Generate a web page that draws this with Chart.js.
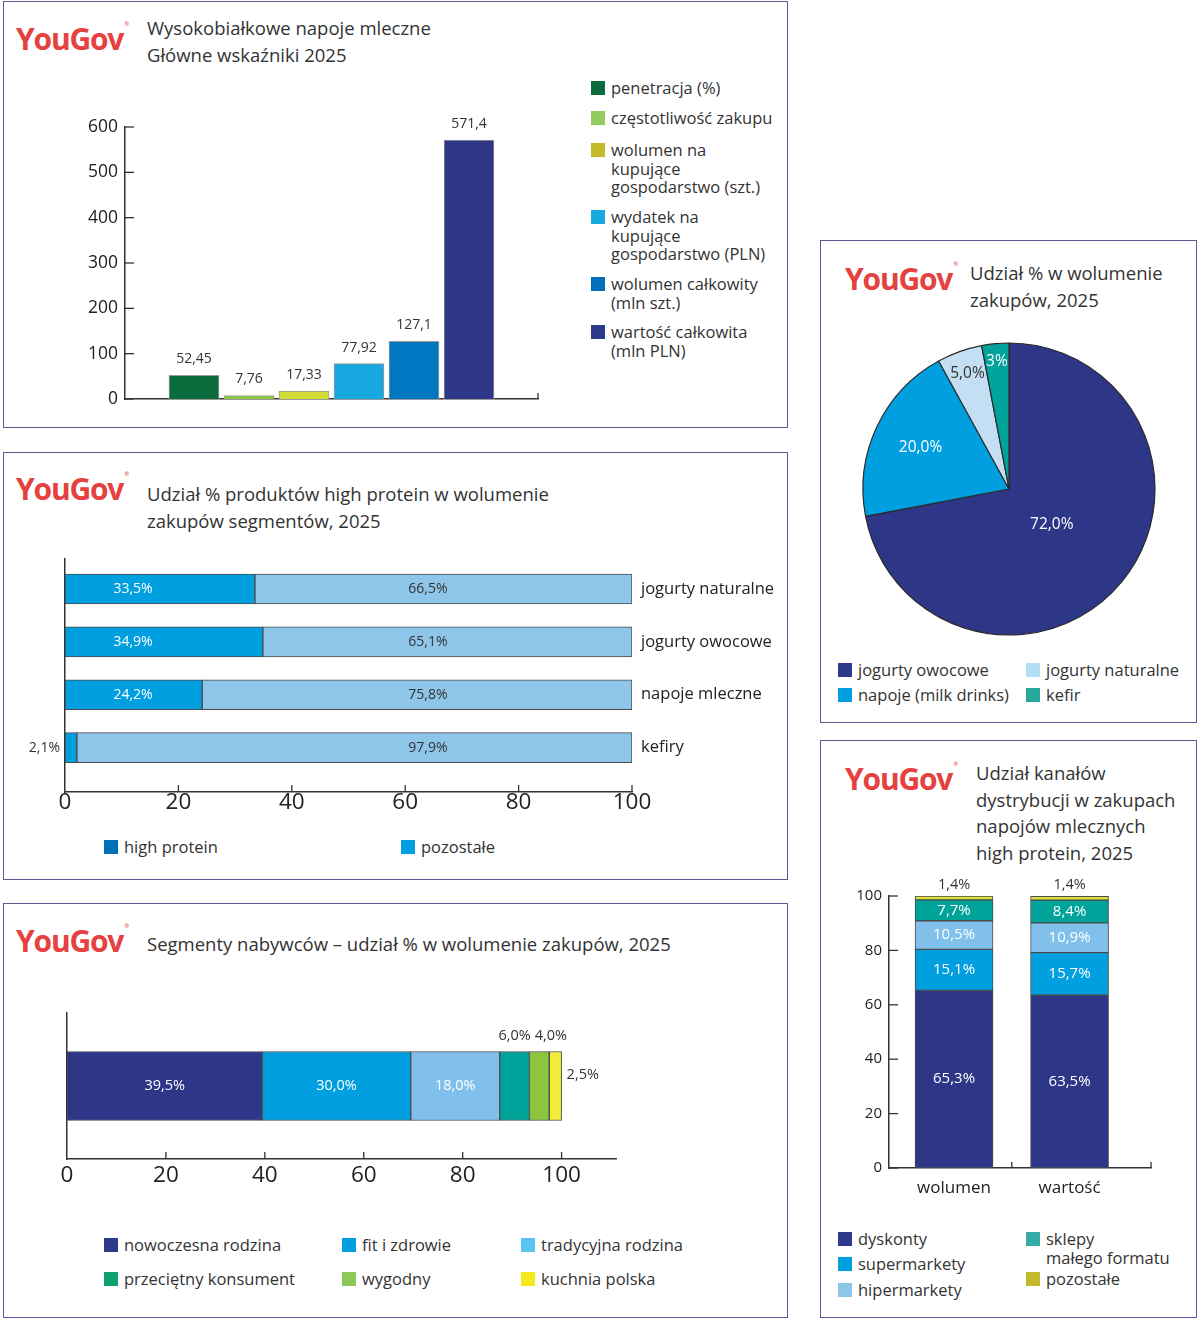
<!DOCTYPE html>
<html lang="pl">
<head>
<meta charset="utf-8">
<script src="https://cdn.jsdelivr.net/npm/chart.js@4.4.1/dist/chart.umd.min.js"></script>
<style>
body { margin: 0; background: #fff; font-family: "Open Sans", sans-serif; color: #333; }
#page { position: relative; width: 1200px; height: 1319px; overflow: hidden; }
.panel { position: absolute; border: 1.5px solid #565b96; box-sizing: border-box; }
.logo { position: absolute; color: #e5413e; font-weight: 700; font-size: 30px; line-height: 30px; letter-spacing: -1.2px; white-space: nowrap; }
.logo sup { font-size: 6px; font-weight: 400; position: relative; top: -13px; letter-spacing: 0; margin-left: 1px; }
.title { position: absolute; font-size: 18.5px; line-height: 26.5px; color: #333; white-space: nowrap; }
canvas { position: absolute; }
.lg { position: absolute; font-size: 16.5px; line-height: 18.5px; color: #333; padding-left: 20px; white-space: pre; }
.lg i { position: absolute; left: 0; top: 2px; width: 14px; height: 14px; }
</style>
</head>
<body>
<div id="page">
  <div class="panel" style="left:3px;top:1px;width:785px;height:427px"></div>
  <div class="panel" style="left:3px;top:452px;width:785px;height:428px"></div>
  <div class="panel" style="left:3px;top:903px;width:785px;height:415px"></div>
  <div class="panel" style="left:820px;top:240px;width:377px;height:483px"></div>
  <div class="panel" style="left:820px;top:740px;width:377px;height:578px"></div>

  <div class="logo" style="left:16px;top:22px">YouGov<sup>®</sup></div>
  <div class="logo" style="left:16px;top:472px">YouGov<sup>®</sup></div>
  <div class="logo" style="left:16px;top:924px">YouGov<sup>®</sup></div>
  <div class="logo" style="left:845px;top:262px">YouGov<sup>®</sup></div>
  <div class="logo" style="left:845px;top:762px">YouGov<sup>®</sup></div>

  <div class="title" style="left:147px;top:15px">Wysokobiałkowe napoje mleczne<br>Główne wskaźniki 2025</div>
  <div class="title" style="left:147px;top:481px">Udział % produktów high protein w wolumenie<br>zakupów segmentów, 2025</div>
  <div class="title" style="left:147px;top:931px">Segmenty nabywców – udział % w wolumenie zakupów, 2025</div>
  <div class="title" style="left:970px;top:260px">Udział % w wolumenie<br>zakupów, 2025</div>
  <div class="title" style="left:976px;top:760px">Udział kanałów<br>dystrybucji w zakupach<br>napojów mlecznych<br>high protein, 2025</div>

  <canvas id="c1" width="500" height="320" style="left:60px;top:100px"></canvas>
  <canvas id="c2" width="770" height="290" style="left:20px;top:540px"></canvas>
  <canvas id="c3" width="640" height="200" style="left:20px;top:1000px"></canvas>
  <canvas id="c4" width="320" height="320" style="left:849px;top:329px"></canvas>
  <canvas id="c5" width="340" height="340" style="left:830px;top:870px"></canvas>
</div>
<script>
// ---- data ----
const kpiNames = ['penetracja (%)', 'częstotliwość zakupu', 'wolumen na\nkupujące\ngospodarstwo (szt.)',
  'wydatek na\nkupujące\ngospodarstwo (PLN)', 'wolumen całkowity\n(mln szt.)', 'wartość całkowita\n(mln PLN)'];
const kpiValues = [52.45, 7.76, 17.33, 77.92, 127.1, 571.4];
const kpiTicks = [0, 100, 200, 300, 400, 500, 600];

const segNames = ['jogurty naturalne', 'jogurty owocowe', 'napoje mleczne', 'kefiry'];
const hpShare = [33.5, 34.9, 24.2, 2.1];
const otherShare = [66.5, 65.1, 75.8, 97.9];
const hpSeries = ['high protein', 'pozostałe'];

const buyerNames = ['nowoczesna rodzina', 'fit i zdrowie', 'tradycyjna rodzina', 'przeciętny konsument', 'wygodny', 'kuchnia polska'];
const buyerShare = [39.5, 30.0, 18.0, 6.0, 4.0, 2.5];

const pieNames = ['jogurty owocowe', 'napoje (milk drinks)', 'jogurty naturalne', 'kefir'];
const pieValues = [72.0, 20.0, 5.0, 3];
const pieDecimals = [1, 1, 1, 0];

const channelCats = ['wolumen', 'wartość'];
const channelNames = ['dyskonty', 'supermarkety', 'hipermarkety', 'sklepy\nmałego formatu', 'pozostałe'];
const dyskonty = [65.3, 63.5];
const supermarkety = [15.1, 15.7];
const hipermarkety = [10.5, 10.9];
const sklepy = [7.7, 8.4];
const pozostale = [1.4, 1.4];
const channelTicks = [0, 20, 40, 60, 80, 100];

// ---- colours ----
const NAVY = '#2e3688', CYAN = '#00a0e0', LIGHT = '#80c0ea', TEAL = '#00a39a';
const kpiColors = ['#0b6b3c', '#8cc63f', '#d2dc35', '#18a8e0', '#0077c0', NAVY];
const kpiLegendColors = ['#0b6b3c', '#94cb60', '#c4ba2c', '#18a8e0', '#0070b8', '#2e3a8c'];

Chart.defaults.font.family = '"Open Sans", sans-serif';
Chart.defaults.color = '#222';
Chart.defaults.animation = false;
Chart.defaults.plugins.legend.display = false;
Chart.defaults.plugins.tooltip.enabled = false;

const comma = (v, d) => v.toFixed(d).replace('.', ',');

function legend(names, colors, spots) {
  const page = document.getElementById('page');
  names.forEach((n, i) => {
    const d = document.createElement('div');
    d.className = 'lg';
    d.style.left = spots[i][0] + 'px';
    d.style.top = (spots[i][1] - 9) + 'px';
    d.textContent = n;
    const sw = document.createElement('i');
    sw.style.background = colors[i];
    d.appendChild(sw);
    page.appendChild(d);
  });
}

// tick marks that point into the plot area
const innerTicks = {
  id: 'innerTicks',
  afterDraw(chart, args, opts) {
    const ctx = chart.ctx, area = chart.chartArea;
    ctx.save();
    ctx.strokeStyle = '#333';
    ctx.lineWidth = 1.3;
    (opts.marks || []).forEach(m => {
      const s = chart.scales[m.axis];
      const vals = m.values === 'auto' ? s.ticks.map(t => t.value) : m.values.map(v => v === 'max' ? s.max : v);
      vals.forEach(v => {
        const p = s.getPixelForValue(v);
        ctx.beginPath();
        if (s.isHorizontal()) { ctx.moveTo(p, area.bottom); ctx.lineTo(p, area.bottom - m.len); }
        else { ctx.moveTo(area.left, p); ctx.lineTo(area.left + m.len, p); }
        ctx.stroke();
      });
    });
    ctx.restore();
  }
};
Chart.register(innerTicks);

function fixSize(prop, n) { return s => { s[prop] = n; }; }
const axisBorder = { display: true, color: '#333', width: 1.5 };
const noGrid = { display: false, drawTicks: false };

function text(ctx, str, x, y, color, size, align) {
  ctx.fillStyle = color;
  ctx.font = size + 'px "Open Sans", sans-serif';
  ctx.textAlign = align || 'center';
  ctx.textBaseline = 'middle';
  ctx.fillText(str, x, y);
}

// ---- 1: main indicators ----
new Chart(document.getElementById('c1'), {
  type: 'bar',
  data: {
    datasets: [{
      data: kpiValues.map((v, i) => ({ x: i, y: v })),
      backgroundColor: kpiColors,
      borderColor: '#9a9a9a',
      borderWidth: 1,
      barThickness: 50
    }]
  },
  options: {
    responsive: false,
    layout: { padding: { top: 27, right: 22 } },
    scales: {
      x: { type: 'linear', offset: false, min: -1.2545, max: 6.2545, grid: noGrid, border: axisBorder,
           ticks: { display: false }, afterFit: fixSize('height', 21) },
      y: { min: 0, max: 600, grid: noGrid, border: axisBorder, afterFit: fixSize('width', 65),
           ticks: { stepSize: 100, padding: 7, font: { size: 17.5 }, callback: v => kpiTicks.includes(v) ? v : '' } }
    },
    plugins: { innerTicks: { marks: [{ axis: 'y', values: 'auto', len: 9 }, { axis: 'x', values: ['max'], len: 6 }] } }
  },
  plugins: [{
    id: 'kpiLabels',
    afterDatasetsDraw(chart) {
      chart.getDatasetMeta(0).data.forEach((bar, i) => {
        text(chart.ctx, String(kpiValues[i]).replace('.', ','), bar.x, bar.y - 16, '#333', 14);
      });
    }
  }]
});
legend(kpiNames, kpiLegendColors, [[591, 88], [591, 118], [591, 150], [591, 217], [591, 284], [591, 332]]);

// ---- 2: high protein share by segment ----
const segAxis = { type: 'linear', offset: false, reverse: true, min: -0.57, max: 3.84, grid: noGrid };
new Chart(document.getElementById('c2'), {
  type: 'bar',
  data: {
    datasets: [
      { label: hpSeries[0], data: hpShare.map((v, i) => ({ x: v, y: i })), backgroundColor: CYAN },
      { label: hpSeries[1], data: otherShare.map((v, i) => ({ x: v, y: i })), backgroundColor: '#8ec6ea' }
    ].map(d => Object.assign(d, { borderColor: '#4a4a4a', borderWidth: 1, barThickness: 30, borderSkipped: false }))
  },
  options: {
    responsive: false,
    indexAxis: 'y',
    layout: { padding: { top: 16 } },
    scales: {
      x: { stacked: true, min: 0, max: 100, grid: noGrid, border: axisBorder, afterFit: fixSize('height', 38),
           ticks: { stepSize: 20, padding: -3, font: { size: 22.5 } } },
      y: Object.assign({}, segAxis, { stacked: true, border: axisBorder, ticks: { display: false },
           afterFit: fixSize('width', 45) }),
      y2: Object.assign({}, segAxis, { position: 'right', border: { display: false }, afterFit: fixSize('width', 158),
            ticks: { stepSize: 1, padding: 9, autoSkip: false, includeBounds: false, font: { size: 16.5 }, color: '#222',
                     callback: v => Number.isInteger(v) && segNames[v] ? segNames[v] : '' } })
    },
    plugins: { innerTicks: { marks: [{ axis: 'x', values: [20, 40, 60, 80, 100], len: 7 }] } }
  },
  plugins: [{
    id: 'hpLabels',
    afterDatasetsDraw(chart) {
      const xs = chart.scales.x, ctx = chart.ctx;
      chart.getDatasetMeta(0).data.forEach((bar, i) => {
        const s = comma(hpShare[i], 1) + '%';
        if (hpShare[i] >= 10) text(ctx, s, xs.getPixelForValue(12), bar.y, '#fff', 14);
        else text(ctx, s, chart.chartArea.left - 5, bar.y, '#333', 14, 'right');
      });
      chart.getDatasetMeta(1).data.forEach((bar, i) => {
        text(ctx, comma(otherShare[i], 1) + '%', xs.getPixelForValue(64), bar.y, '#333', 14);
      });
    }
  }]
});
legend(hpSeries, ['#0070b8', CYAN], [[104, 847], [401, 847]]);

// ---- 3: buyer segments ----
const buyerColors = [NAVY, CYAN, LIGHT, TEAL, '#8cc63f', '#f3ec3a'];
new Chart(document.getElementById('c3'), {
  type: 'bar',
  data: {
    labels: [''],
    datasets: buyerShare.map((v, i) => ({
      label: buyerNames[i], data: [v], backgroundColor: buyerColors[i],
      borderColor: '#4a4a4a', borderWidth: 1, barThickness: 69, borderSkipped: false
    }))
  },
  options: {
    responsive: false,
    indexAxis: 'y',
    layout: { padding: { top: 13, right: 44 } },
    scales: {
      x: { stacked: true, min: 0, max: 111, grid: noGrid, border: axisBorder, afterFit: fixSize('height', 41),
           ticks: { stepSize: 20, padding: 3, autoSkip: false, includeBounds: false, font: { size: 22.5 },
                    callback: v => v <= 100 ? v : '' } },
      y: { stacked: true, grid: noGrid, border: axisBorder, ticks: { display: false }, afterFit: fixSize('width', 47) }
    },
    plugins: { innerTicks: { marks: [{ axis: 'x', values: [20, 40, 60, 80, 100], len: 7 }] } }
  },
  plugins: [{
    id: 'buyerLabels',
    afterDatasetsDraw(chart) {
      const ctx = chart.ctx;
      let lastRight = -Infinity;
      ctx.font = '14.5px "Open Sans", sans-serif';
      buyerShare.forEach((v, i) => {
        const bar = chart.getDatasetMeta(i).data[0];
        const s = comma(v, 1) + '%';
        const top = bar.y - bar.height / 2;
        if (v >= 10) text(ctx, s, (bar.x + bar.base) / 2, bar.y, '#fff', 14.5);
        else if (i < buyerShare.length - 1) {
          // small segments: label above, pushed right if it would collide with the previous one
          const w = ctx.measureText(s).width;
          const cx = Math.max((bar.x + bar.base) / 2, lastRight + 4 + w / 2);
          text(ctx, s, cx, top - 16, '#333', 14.5);
          lastRight = cx + w / 2;
        } else text(ctx, s, bar.x + 5, bar.y - 11, '#333', 14.5, 'left');
      });
    }
  }]
});
legend(buyerNames, ['#2e3a8c', CYAN, '#5bc5f2', '#10a070', '#8cc85a', '#f6ea1e'],
  [[104, 1245], [342, 1245], [521, 1245], [104, 1279], [342, 1279], [521, 1279]]);

// ---- 4: pie ----
const pieColors = [NAVY, CYAN, '#c4dff3', TEAL];
const pieTextColors = ['#fff', '#fff', '#333', '#fff'];
const pieLabelRadius = [0.38, 0.67, 0.84, 0.88];
new Chart(document.getElementById('c4'), {
  type: 'pie',
  data: {
    labels: pieNames,
    datasets: [{ data: pieValues, backgroundColor: pieColors, borderColor: '#2a2a2a', borderWidth: 1.2 }]
  },
  options: { responsive: false, radius: 146 },
  plugins: [{
    id: 'pieLabels',
    afterDatasetsDraw(chart) {
      chart.getDatasetMeta(0).data.forEach((arc, i) => {
        const a = (arc.startAngle + arc.endAngle) / 2, r = arc.outerRadius * pieLabelRadius[i];
        text(chart.ctx, comma(pieValues[i], pieDecimals[i]) + '%', arc.x + Math.cos(a) * r, arc.y + Math.sin(a) * r,
          pieTextColors[i], 15.5);
      });
    }
  }]
});
legend(pieNames, ['#2e3a8c', CYAN, '#b3dcf5', '#2aa79b'], [[838, 670], [838, 695], [1026, 670], [1026, 695]]);

// ---- 5: distribution channels ----
const channelSeries = [dyskonty, supermarkety, hipermarkety, sklepy, pozostale];
const channelColors = [NAVY, CYAN, LIGHT, TEAL, '#dde23a'];
new Chart(document.getElementById('c5'), {
  type: 'bar',
  data: {
    datasets: channelSeries.map((vals, i) => ({
      label: channelNames[i], data: vals.map((v, j) => ({ x: j, y: v })), backgroundColor: channelColors[i],
      borderColor: '#4a4a4a', borderWidth: 1, barThickness: 78, borderSkipped: false
    }))
  },
  options: {
    responsive: false,
    layout: { padding: { top: 26, right: 19 } },
    scales: {
      x: { type: 'linear', offset: false, stacked: true, min: -0.563, max: 1.705, grid: noGrid, border: axisBorder,
           afterFit: fixSize('height', 42),
           ticks: { stepSize: 1, padding: 10, autoSkip: false, includeBounds: false, font: { size: 17 }, color: '#222',
                    callback: v => Number.isInteger(v) && channelCats[v] ? channelCats[v] : '' } },
      y: { stacked: true, min: 0, max: 100, grid: noGrid, border: axisBorder, afterFit: fixSize('width', 59),
           ticks: { stepSize: 20, padding: 7, font: { size: 15 }, callback: v => channelTicks.includes(v) ? v : '' } }
    },
    plugins: { innerTicks: { marks: [{ axis: 'y', values: 'auto', len: 9 }, { axis: 'x', values: [0.5, 'max'], len: 6 }] } }
  },
  plugins: [{
    id: 'channelLabels',
    afterDatasetsDraw(chart) {
      channelSeries.forEach((vals, i) => {
        chart.getDatasetMeta(i).data.forEach((bar, j) => {
          const s = comma(vals[j], 1) + '%';
          if (i < channelSeries.length - 1) text(chart.ctx, s, bar.x, (bar.y + bar.base) / 2, '#fff', 15);
          else text(chart.ctx, s, bar.x, bar.y - 11, '#333', 14.5);
        });
      });
    }
  }]
});
legend(channelNames, ['#2e3a8c', CYAN, '#8ec6ea', '#36aaa5', '#c2b92c'],
  [[838, 1239], [838, 1264], [838, 1290], [1026, 1239], [1026, 1279]]);
</script>
</body>
</html>
